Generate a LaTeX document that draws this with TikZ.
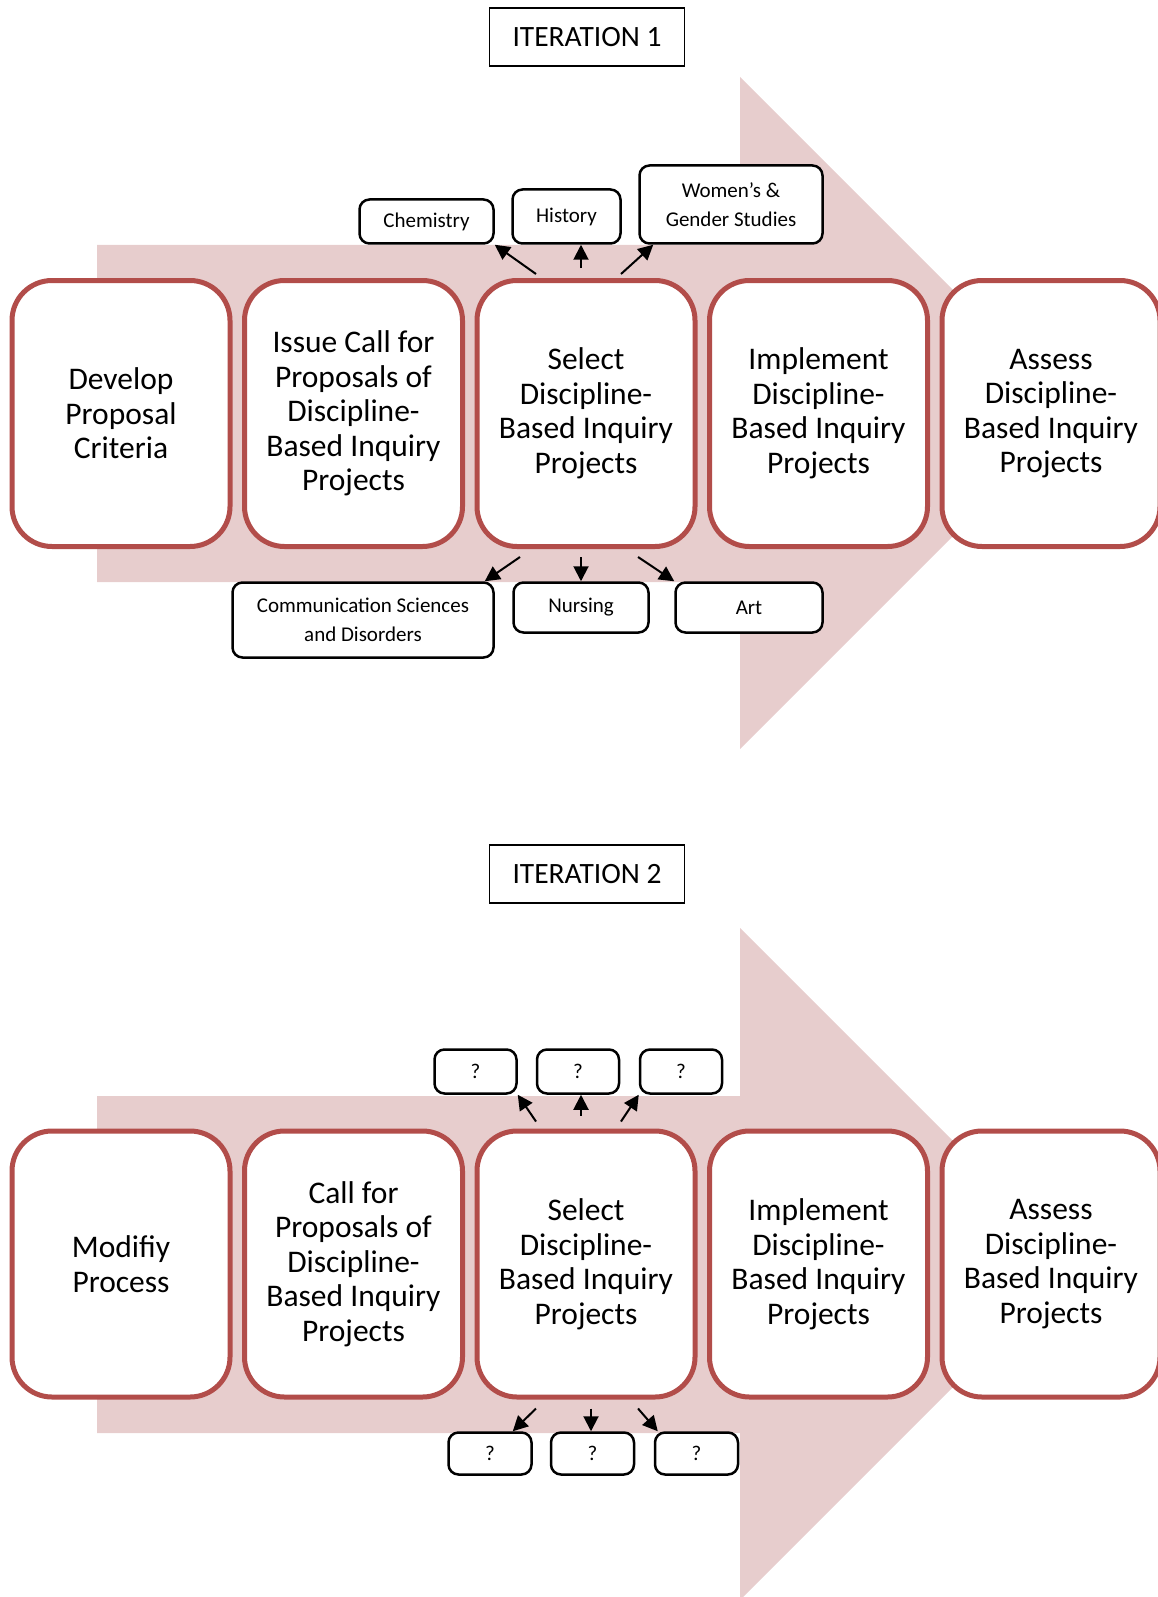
\documentclass[tikz,border=0pt]{standalone}
\usepackage{fontspec}
\setmainfont{Carlito}
\usepackage{xcolor}
\usepackage{tikz}
\usetikzlibrary{arrows.meta, positioning}
\definecolor{boxred}{HTML}{B24D4A}
\definecolor{arrowpink}{HTML}{E7CDCD}
\tikzstyle{stage} = [rectangle, rounded corners=40pt, minimum width=218pt, minimum height=266pt, align=center, draw=boxred, line width=5pt, fill=white, font=\fontsize{31.5}{34.5}\selectfont]
\tikzstyle{dept} = [rectangle, rounded corners=10pt, align=center, draw=black, line width=2.5pt, fill=white, inner sep=0pt, font=\fontsize{21}{29.5}\selectfont]
\tikzstyle{title} = [rectangle, minimum width=195pt, minimum height=58pt, draw=black, line width=1.5pt, font=\fontsize{29.5}{32}\selectfont]
\tikzstyle{arrow} = [line width=2pt, -{Triangle[length=15pt,width=15pt]}]

\begin{document}
\begin{tikzpicture}[x=1pt, y=-1pt]
\useasboundingbox (0,0) rectangle (1158,1597);

% Big arrows
\fill[arrowpink] (97,245) -- (740,245) -- (740,77) -- (1076,413) -- (740,749) -- (740,582) -- (97,582) -- cycle;
\fill[arrowpink] (97,1096) -- (740,1096) -- (740,928) -- (1076,1264) -- (740,1600) -- (740,1433) -- (97,1433) -- cycle;

% Iteration 1
\node (iter1) [title] at (587,37) {ITERATION 1};
\node (dev) [stage] at (121,413.5) {Develop\\Proposal\\Criteria};
\node (issue) [stage, right=9.5pt of dev] {Issue Call for\\Proposals of\\Discipline-\\Based Inquiry\\Projects};
\node (sel1) [stage, right=9.5pt of issue] {Select\\Discipline-\\Based Inquiry\\Projects};
\node (impl1) [stage, right=9.5pt of sel1] {Implement\\Discipline-\\Based Inquiry\\Projects};
\node (assess1) [stage, right=9.5pt of impl1] {Assess\\Discipline-\\Based Inquiry\\Projects};

\node (chem) [dept, minimum width=134pt, minimum height=44pt] at (426.5,221.5) {Chemistry};
\node (hist) [dept, minimum width=108pt, minimum height=54pt] at (566.5,216.5) {History};
\node (wgs) [dept, minimum width=183pt, minimum height=78pt] at (731,204.5) {Women’s \&\\Gender Studies};
\node (csd) [dept, minimum width=261pt, minimum height=75pt] at (363,620) {Communication Sciences\\and Disorders};
\node (nurs) [dept, minimum width=135pt, minimum height=50pt] at (581,607.5) {Nursing};
\node (art) [dept, minimum width=147pt, minimum height=50pt] at (749,607.5) {Art};

% Arrows
\coordinate (h1) at ([xshift=-5pt,yshift=10pt]sel1.north);
\coordinate (n1) at ([xshift=-5pt,yshift=-8pt]sel1.south);
\draw [arrow] ([xshift=-50pt,yshift=4pt]sel1.north) -- (chem.south east);
\draw [arrow] (h1) -- (h1 |- hist.south);
\draw [arrow] ([xshift=35pt,yshift=4pt]sel1.north) -- ([xshift=15pt]wgs.south west);
\draw [arrow] ([xshift=-66pt,yshift=-8pt]sel1.south) -- ([xshift=-10pt]csd.north east);
\draw [arrow] (n1) -- (n1 |- nurs.north);
\draw [arrow] ([xshift=52pt,yshift=-8pt]sel1.south) -- (art.north west);

% Iteration 2
\node (iter2) [title] at (587,874) {ITERATION 2};
\node (mod) [stage] at (121,1264) {Modifiy\\Process};
\node (call) [stage, right=9.5pt of mod] {Call for\\Proposals of\\Discipline-\\Based Inquiry\\Projects};
\node (sel2) [stage, right=9.5pt of call] {Select\\Discipline-\\Based Inquiry\\Projects};
\node (impl2) [stage, right=9.5pt of sel2] {Implement\\Discipline-\\Based Inquiry\\Projects};
\node (assess2) [stage, right=9.5pt of impl2] {Assess\\Discipline-\\Based Inquiry\\Projects};

\node (q1) [dept, minimum width=82pt, minimum height=44pt] at (475.5,1071.5) {?};
\node (q2) [dept, minimum width=82pt, minimum height=44pt] at (578,1071.5) {?};
\node (q3) [dept, minimum width=82pt, minimum height=44pt] at (681,1071.5) {?};
\node (q4) [dept, minimum width=83pt, minimum height=42pt] at (490,1453.5) {?};
\node (q5) [dept, minimum width=83pt, minimum height=42pt] at (592.5,1453.5) {?};
\node (q6) [dept, minimum width=83pt, minimum height=42pt] at (696.5,1453.5) {?};

% Arrows
\coordinate (h2) at ([xshift=-5pt,yshift=13pt]sel2.north);
\coordinate (n2) at ([xshift=5pt,yshift=-9pt]sel2.south);
\draw [arrow] ([xshift=-50pt,yshift=7pt]sel2.north) -- (q1.south east);
\draw [arrow] (h2) -- (h2 |- q2.south);
\draw [arrow] ([xshift=35pt,yshift=7pt]sel2.north) -- (q3.south west);
\draw [arrow] ([xshift=-50pt,yshift=-9pt]sel2.south) -- ([xshift=-20pt]q4.north east);
\draw [arrow] (n2) -- (n2 |- q5.north);
\draw [arrow] ([xshift=52pt,yshift=-9pt]sel2.south) -- ([xshift=4pt]q6.north west);
\end{tikzpicture}
\end{document}
